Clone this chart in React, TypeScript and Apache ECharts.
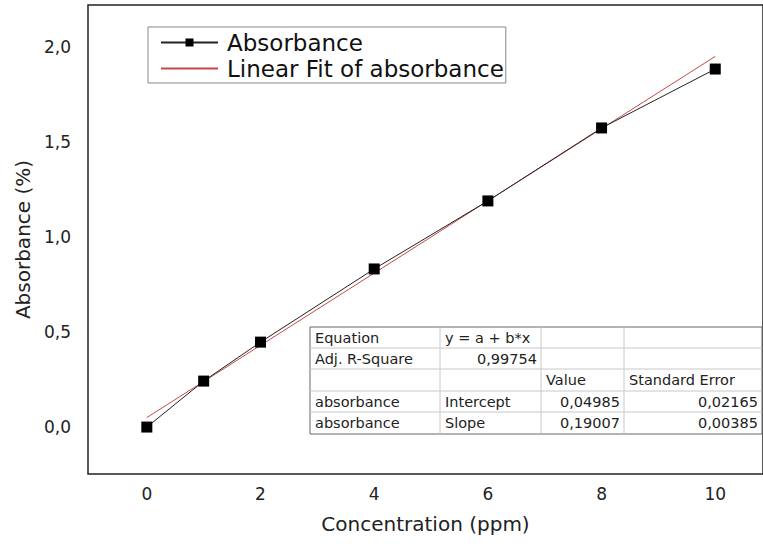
import React, { useEffect, useRef } from "react";
import * as echarts from "echarts";

// ---- data ----
const concentration = [0, 1, 2, 4, 6, 8, 10];
const absorbance = [0.0, 0.242, 0.447, 0.832, 1.19, 1.574, 1.884];
const fitIntercept = 0.04985;
const fitSlope = 0.19007;
const fitX = [0, 10];
const xTicks = [0, 2, 4, 6, 8, 10];
const yTicks = [0, 0.5, 1.0, 1.5, 2.0];

// fit table
const tableRows: string[][] = [
  ["Equation", "y = a + b*x", "", ""],
  ["Adj. R-Square", "0,99754", "", ""],
  ["", "", "Value", "Standard Error"],
  ["absorbance", "Intercept", "0,04985", "0,02165"],
  ["absorbance", "Slope", "0,19007", "0,00385"],
];
// which cells are right-aligned
const tableRightAligned: boolean[][] = [
  [false, false, false, false],
  [false, true, false, false],
  [false, false, false, false],
  [false, false, true, true],
  [false, false, true, true],
];

const FONT = "DejaVu Sans";

export default function App() {
  const ref = useRef<HTMLDivElement>(null);

  useEffect(() => {
    if (!ref.current) return;
    const chart = echarts.init(ref.current, null, { renderer: "svg" });

    const colX = [310, 440, 541, 624, 762];
    const rowY = [327, 348, 369, 391, 412, 434];
    const tableEls: any[] = [];
    tableEls.push({
      type: "rect",
      shape: { x: colX[0], y: rowY[0], width: colX[4] - colX[0], height: rowY[5] - rowY[0] },
      style: { fill: "#fff", stroke: "#666", lineWidth: 1 },
      z: 10,
    });
    for (let i = 1; i < rowY.length - 1; i++) {
      tableEls.push({
        type: "line",
        shape: { x1: colX[0], y1: rowY[i], x2: colX[4], y2: rowY[i] },
        style: { stroke: "#c8c8c8", lineWidth: 1 },
        z: 11,
      });
    }
    for (let j = 1; j < colX.length - 1; j++) {
      tableEls.push({
        type: "line",
        shape: { x1: colX[j], y1: rowY[0], x2: colX[j], y2: rowY[5] },
        style: { stroke: "#c8c8c8", lineWidth: 1 },
        z: 11,
      });
    }
    tableRows.forEach((row, r) => {
      row.forEach((txt, c) => {
        if (!txt) return;
        const right = tableRightAligned[r][c];
        tableEls.push({
          type: "text",
          x: right ? colX[c + 1] - 4 : colX[c] + 5,
          y: (rowY[r] + rowY[r + 1]) / 2,
          style: {
            text: txt,
            fill: "#222",
            font: `14.5px "${FONT}"`,
            textAlign: right ? "right" : "left",
            textVerticalAlign: "middle",
          },
          z: 12,
        });
      });
    });

    const fitData = fitX.map((x) => [x, fitIntercept + fitSlope * x]);

    chart.setOption({
      animation: false,
      backgroundColor: "#fff",
      textStyle: { fontFamily: FONT },
      grid: { left: 88, right: -2, top: 5, bottom: 70, show: true, borderColor: "#222", borderWidth: 1.5 },
      legend: {
        left: 148,
        top: 27,
        orient: "vertical",
        borderColor: "#888",
        borderWidth: 1,
        padding: [4, 2, 3, 12],
        itemGap: 3,
        itemWidth: 57,
        itemHeight: 10,
        textStyle: { fontFamily: FONT, fontSize: 23, color: "#111", padding: [0, 0, 0, 4] },
        data: [
          { name: "Absorbance" },
          { name: "Linear Fit of absorbance", itemStyle: { opacity: 0 } },
        ],
      },
      xAxis: {
        type: "value",
        min: -1.035,
        max: 10.84,
        name: "Concentration (ppm)",
        nameLocation: "middle",
        nameGap: 40,
        nameTextStyle: { fontFamily: FONT, fontSize: 20, color: "#222" },
        axisLine: { show: false },
        axisTick: { show: false },
        splitLine: { show: false },
        axisLabel: {
          customValues: xTicks,
          margin: 11,
          fontFamily: FONT,
          fontSize: 17,
          color: "#222",
          formatter: (v: number) => String(v),
        },
      },
      yAxis: {
        type: "value",
        min: -0.247,
        max: 2.221,
        name: "Absorbance (%)",
        nameLocation: "middle",
        nameGap: 55,
        nameTextStyle: { fontFamily: FONT, fontSize: 20, color: "#222" },
        axisLine: { show: false },
        axisTick: { show: false },
        splitLine: { show: false },
        axisLabel: {
          customValues: yTicks,
          margin: 17,
          fontFamily: FONT,
          fontSize: 17,
          color: "#222",
          formatter: (v: number) => v.toFixed(1).replace(".", ","),
        },
      },
      series: [
        {
          name: "Absorbance",
          type: "line",
          data: concentration.map((x, i) => [x, absorbance[i]]),
          symbol: "rect",
          symbolSize: 11,
          itemStyle: { color: "#000" },
          lineStyle: { color: "#222", width: 1 },
          z: 3,
        },
        {
          name: "Linear Fit of absorbance",
          type: "line",
          data: fitData,
          symbol: "none",
          itemStyle: { color: "#c84848" },
          lineStyle: { color: "#c84848", width: 1 },
          z: 2,
        },
      ],
      graphic: tableEls,
    });

    return () => chart.dispose();
  }, []);

  return (
    <div
      ref={ref}
      style={{ position: "fixed", left: 0, top: 0, width: 763, height: 544, background: "#fff" }}
    />
  );
}
